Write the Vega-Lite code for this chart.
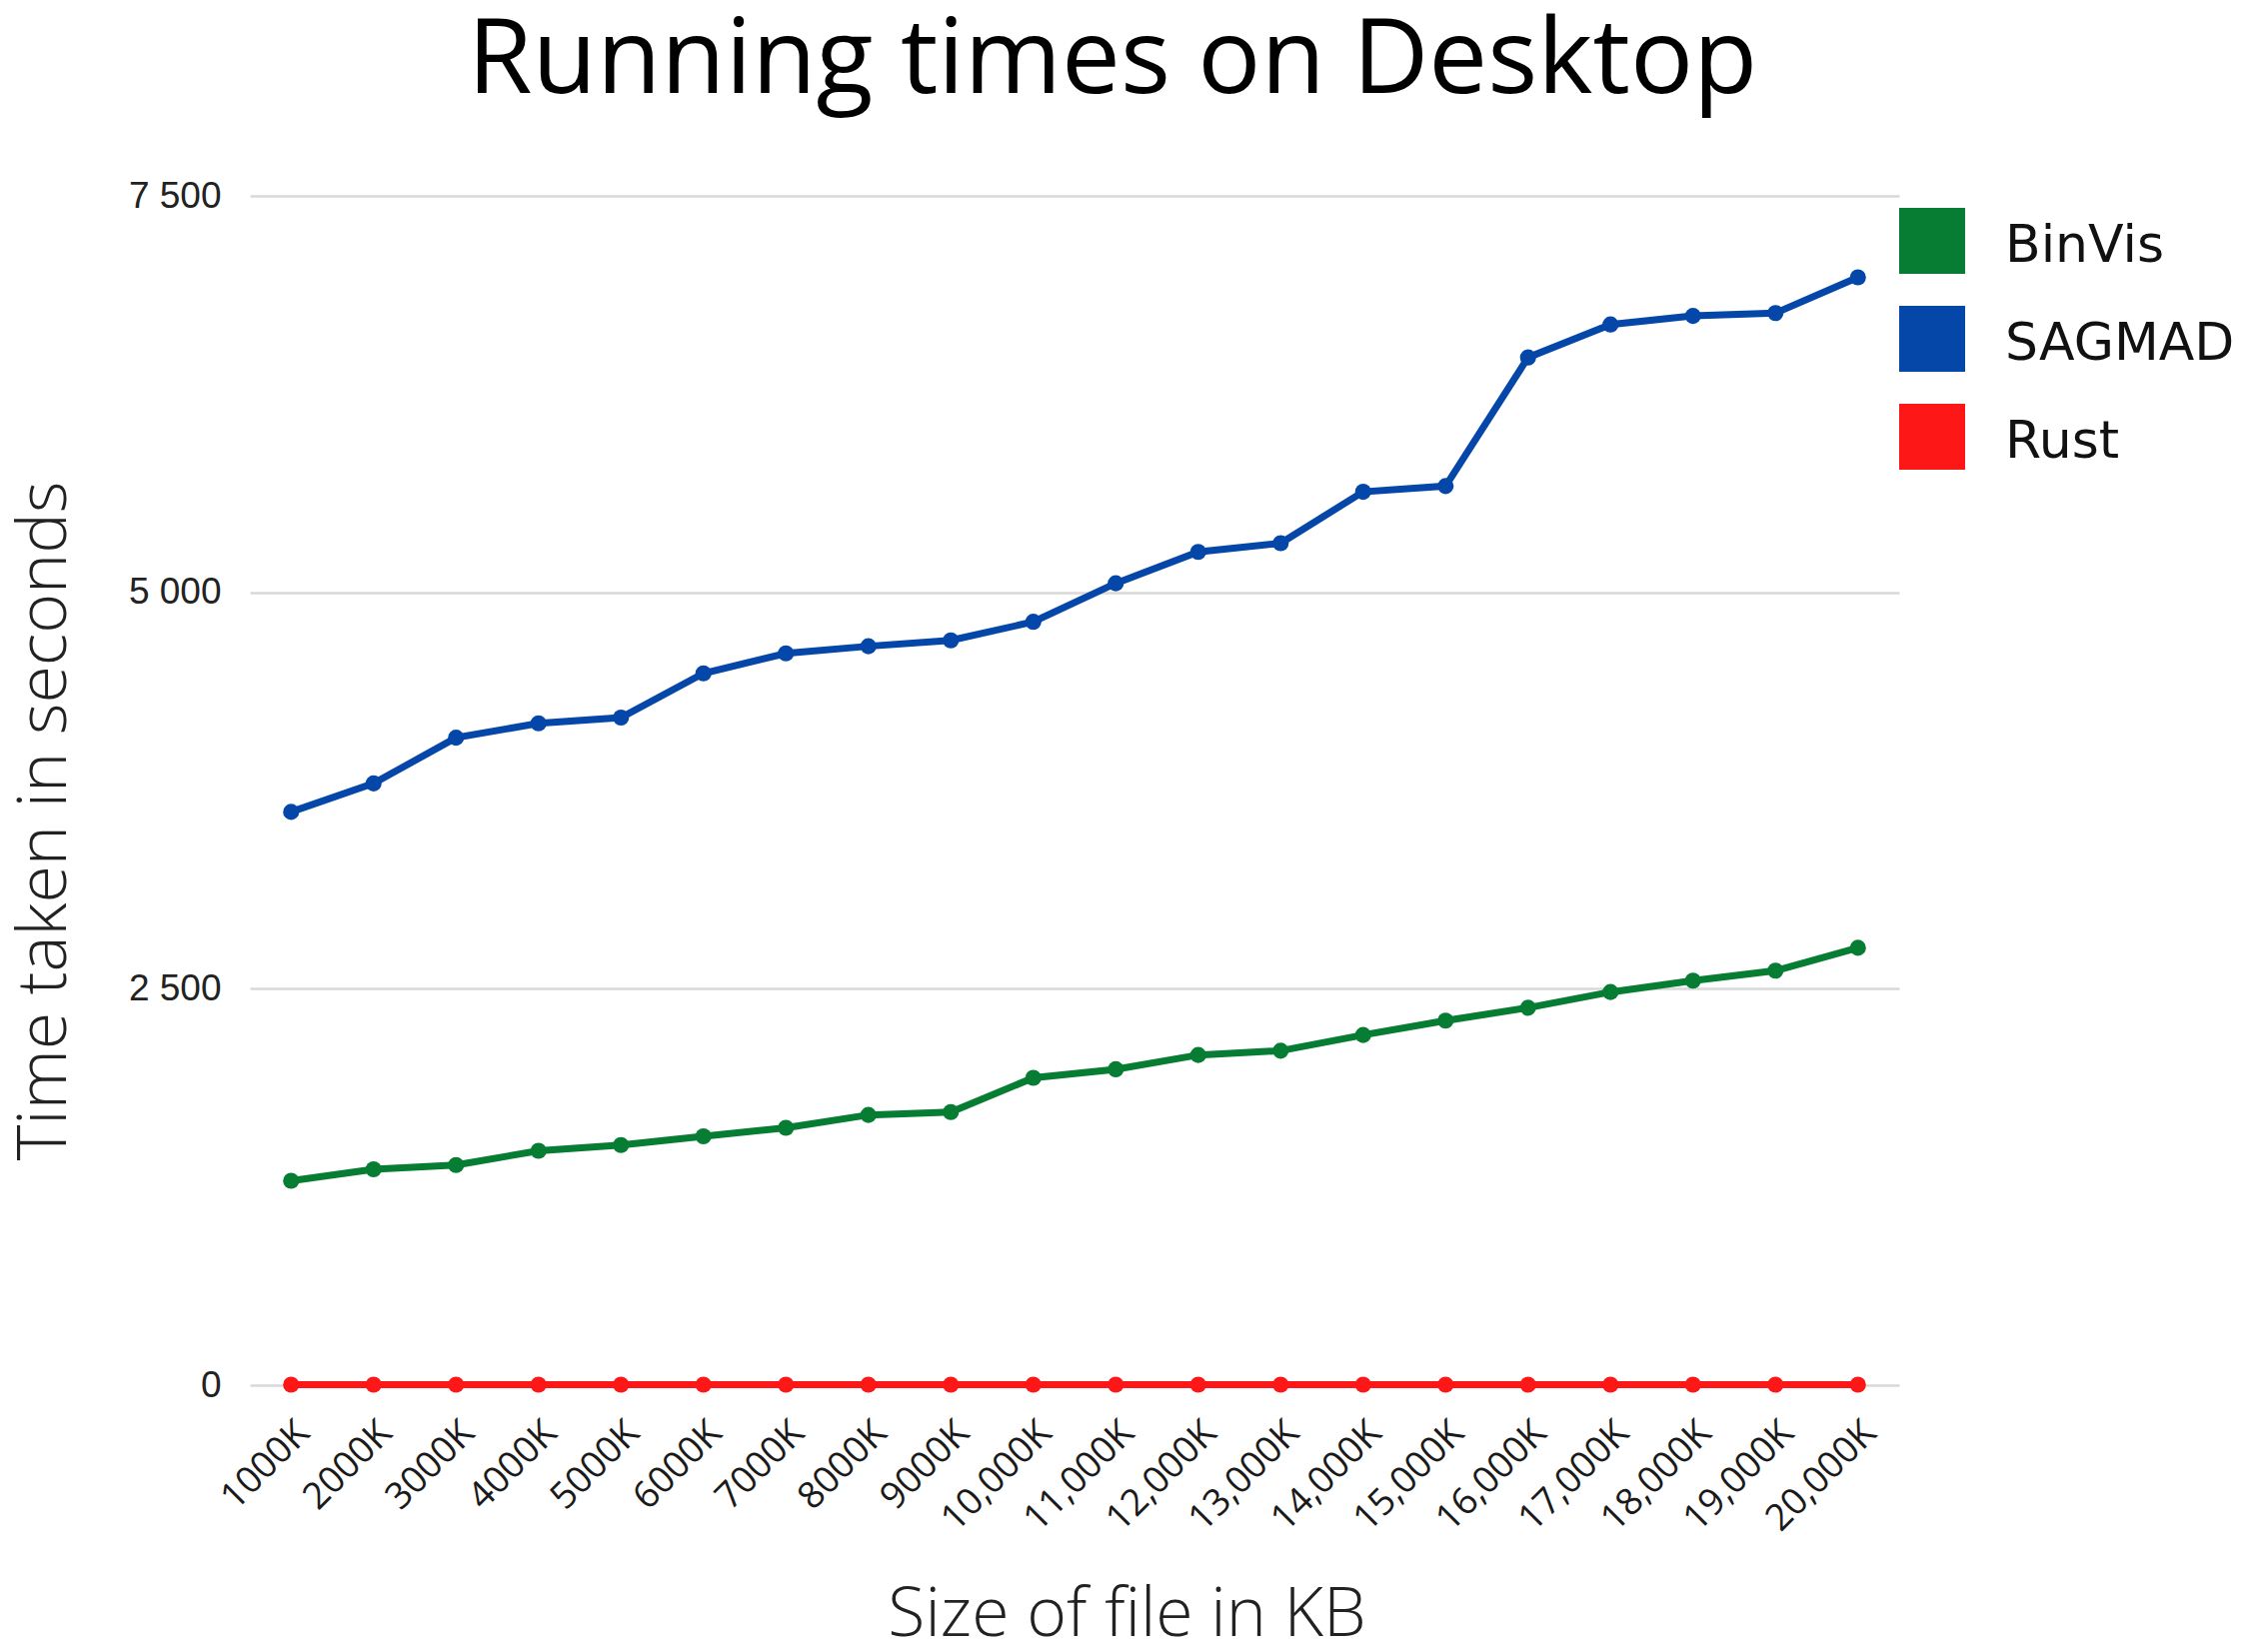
{
  "$schema": "https://vega.github.io/schema/vega-lite/v6.json",
  "autosize": "none",
  "width": 1650,
  "height": 1190,
  "padding": {"left": 250, "top": 196, "right": 343, "bottom": 267},
  "background": "white",
  "title": {
    "text": "Running times on Desktop",
    "font": "Open Sans",
    "fontSize": 105,
    "fontWeight": "normal",
    "color": "#000000",
    "anchor": "middle",
    "frame": "group",
    "dx": 38,
    "baseline": "alphabetic",
    "offset": -21
  },
  "data": {
    "values": [
      {"size": "1000K", "tool": "BinVis", "time": 1289},
      {"size": "2000K", "tool": "BinVis", "time": 1361},
      {"size": "3000K", "tool": "BinVis", "time": 1388},
      {"size": "4000K", "tool": "BinVis", "time": 1478},
      {"size": "5000K", "tool": "BinVis", "time": 1514},
      {"size": "6000K", "tool": "BinVis", "time": 1569},
      {"size": "7000K", "tool": "BinVis", "time": 1623},
      {"size": "8000K", "tool": "BinVis", "time": 1704},
      {"size": "9000K", "tool": "BinVis", "time": 1722},
      {"size": "10,000K", "tool": "BinVis", "time": 1938},
      {"size": "11,000K", "tool": "BinVis", "time": 1992},
      {"size": "12,000K", "tool": "BinVis", "time": 2082},
      {"size": "13,000K", "tool": "BinVis", "time": 2109},
      {"size": "14,000K", "tool": "BinVis", "time": 2208},
      {"size": "15,000K", "tool": "BinVis", "time": 2299},
      {"size": "16,000K", "tool": "BinVis", "time": 2380},
      {"size": "17,000K", "tool": "BinVis", "time": 2479},
      {"size": "18,000K", "tool": "BinVis", "time": 2551},
      {"size": "19,000K", "tool": "BinVis", "time": 2614},
      {"size": "20,000K", "tool": "BinVis", "time": 2758},
      {"size": "1000K", "tool": "SAGMAD", "time": 3615},
      {"size": "2000K", "tool": "SAGMAD", "time": 3795},
      {"size": "3000K", "tool": "SAGMAD", "time": 4083},
      {"size": "4000K", "tool": "SAGMAD", "time": 4174},
      {"size": "5000K", "tool": "SAGMAD", "time": 4210},
      {"size": "6000K", "tool": "SAGMAD", "time": 4489},
      {"size": "7000K", "tool": "SAGMAD", "time": 4615},
      {"size": "8000K", "tool": "SAGMAD", "time": 4660},
      {"size": "9000K", "tool": "SAGMAD", "time": 4697},
      {"size": "10,000K", "tool": "SAGMAD", "time": 4814},
      {"size": "11,000K", "tool": "SAGMAD", "time": 5057},
      {"size": "12,000K", "tool": "SAGMAD", "time": 5255},
      {"size": "13,000K", "tool": "SAGMAD", "time": 5310},
      {"size": "14,000K", "tool": "SAGMAD", "time": 5634},
      {"size": "15,000K", "tool": "SAGMAD", "time": 5670},
      {"size": "16,000K", "tool": "SAGMAD", "time": 6481},
      {"size": "17,000K", "tool": "SAGMAD", "time": 6689},
      {"size": "18,000K", "tool": "SAGMAD", "time": 6743},
      {"size": "19,000K", "tool": "SAGMAD", "time": 6761},
      {"size": "20,000K", "tool": "SAGMAD", "time": 6986},
      {"size": "1000K", "tool": "Rust", "time": 3},
      {"size": "2000K", "tool": "Rust", "time": 3},
      {"size": "3000K", "tool": "Rust", "time": 3},
      {"size": "4000K", "tool": "Rust", "time": 3},
      {"size": "5000K", "tool": "Rust", "time": 3},
      {"size": "6000K", "tool": "Rust", "time": 3},
      {"size": "7000K", "tool": "Rust", "time": 3},
      {"size": "8000K", "tool": "Rust", "time": 3},
      {"size": "9000K", "tool": "Rust", "time": 3},
      {"size": "10,000K", "tool": "Rust", "time": 3},
      {"size": "11,000K", "tool": "Rust", "time": 3},
      {"size": "12,000K", "tool": "Rust", "time": 3},
      {"size": "13,000K", "tool": "Rust", "time": 3},
      {"size": "14,000K", "tool": "Rust", "time": 3},
      {"size": "15,000K", "tool": "Rust", "time": 3},
      {"size": "16,000K", "tool": "Rust", "time": 3},
      {"size": "17,000K", "tool": "Rust", "time": 3},
      {"size": "18,000K", "tool": "Rust", "time": 3},
      {"size": "19,000K", "tool": "Rust", "time": 3},
      {"size": "20,000K", "tool": "Rust", "time": 3}
    ]
  },
  "encoding": {
    "x": {
      "field": "size",
      "type": "nominal",
      "sort": null,
      "scale": {"type": "point", "padding": 0.5},
      "axis": {
        "title": "Size of file in KB",
        "titleFont": "Open Sans",
        "titleFontWeight": 300,
        "titleFontSize": 68,
        "titleColor": "#222222",
        "titleX": 877,
        "titleY": 250,
        "titleBaseline": "alphabetic",
        "titleAnchor": null,
        "titleAlign": "center",
        "labelAngle": -45,
        "labelAlign": "right",
        "labelBaseline": "middle",
        "labelFont": "Open Sans",
        "labelFontSize": 37,
        "labelColor": "#1a1a1a",
        "labelPadding": 42,
        "labelOffset": 12,
        "ticks": false,
        "domain": false,
        "grid": false
      }
    },
    "y": {
      "field": "time",
      "type": "quantitative",
      "scale": {"domain": [0, 7500], "nice": false},
      "axis": {
        "title": "Time taken in seconds",
        "titleFont": "Open Sans",
        "titleFontWeight": 300,
        "titleFontSize": 68,
        "titleColor": "#222222",
        "titleX": -205,
        "titleY": 625,
        "titleAngle": -90,
        "titleAlign": "center",
        "titleBaseline": "middle",
        "titleAnchor": null,
        "values": [0, 2500, 5000, 7500],
        "labelExpr": "replace(format(datum.value, ','), ',', ' ')",
        "labelFont": "Liberation Sans",
        "labelFontSize": 37,
        "labelColor": "#222222",
        "labelPadding": 29,
        "ticks": false,
        "domain": false,
        "grid": true,
        "gridColor": "#d9d9d9",
        "gridWidth": 2.5
      }
    },
    "color": {
      "field": "tool",
      "type": "nominal",
      "scale": {"domain": ["BinVis", "SAGMAD", "Rust"], "range": ["#077d34", "#0447a9", "#fe1717"]},
      "legend": {
        "title": null,
        "orient": "none",
        "legendX": 1650,
        "legendY": 12,
        "symbolType": "square",
        "symbolSize": 4356,
        "symbolStrokeWidth": 0,
        "symbolOpacity": 1,
        "labelFont": "DejaVu Sans",
        "labelFontSize": 52,
        "labelColor": "#111111",
        "labelOffset": 40,
        "rowPadding": 32,
        "labelLimit": 400,
        "encode": {
          "symbols": {"update": {"fill": {"scale": "color", "field": "value"}, "stroke": {"value": "transparent"}, "opacity": {"value": 1}}},
          "labels": {"update": {"dy": {"value": 5}}}
        }
      }
    }
  },
  "layer": [
    {"mark": {"type": "line", "strokeWidth": 7}},
    {"mark": {"type": "point", "filled": true, "size": 260, "opacity": 1}}
  ],
  "config": {"view": {"stroke": null}}
}
